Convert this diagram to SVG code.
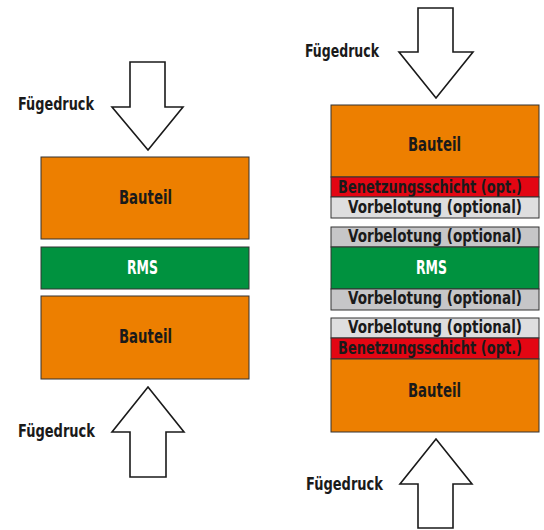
<svg xmlns="http://www.w3.org/2000/svg" width="544" height="530" viewBox="0 0 544 530">
<style>
text{font-family:"Liberation Sans Narrow","DejaVu Sans Condensed","Liberation Sans",sans-serif;font-weight:bold;font-stretch:condensed;fill:#1a1a1a}
.lbl{font-size:18.5px}
.big{font-size:20px}
.lay{font-size:17.5px;text-anchor:middle}
.c{text-anchor:middle}
.w{fill:#ffffff}
.arrow{fill:#ffffff;stroke:#1a1a1a;stroke-width:1.6;stroke-linejoin:miter}
.blk{stroke:#333333;stroke-width:1}
.or{fill:#ED7F00}
.gr{fill:#00923F}
.rd{fill:#E30613}
.lg{fill:#DEDEDF}
.dg{fill:#C6C6C8}
</style>
<rect width="544" height="530" fill="#ffffff"/>
<g id="connectors">
<path class="arrow" d="M130,62 H165 V107 H183 L148,150 L112,107 H130 Z"/>
<path class="arrow" d="M130,477 H166 V432 H184 L148,387 L112,432 H130 Z"/>
<path class="arrow" d="M418,8 H453 V52 H473 L436,98 L399,52 H418 Z"/>
<path class="arrow" d="M418,528 H453 V484 H472 L436,439 L400,484 H418 Z"/>
</g>
<g id="label-left-top"><text class="lbl" x="18" y="110" textLength="76" lengthAdjust="spacingAndGlyphs">Fügedruck</text></g>
<g id="label-left-bottom"><text class="lbl" x="18" y="437" textLength="77" lengthAdjust="spacingAndGlyphs">Fügedruck</text></g>
<g id="label-right-top"><text class="lbl" x="305" y="57" textLength="74" lengthAdjust="spacingAndGlyphs">Fügedruck</text></g>
<g id="label-right-bottom"><text class="lbl" x="306" y="490" textLength="77" lengthAdjust="spacingAndGlyphs">Fügedruck</text></g>

<g id="left-bauteil-top"><rect class="blk or" x="41" y="157" width="208" height="82"/><text class="big c" x="145.5" y="204" textLength="53" lengthAdjust="spacingAndGlyphs">Bauteil</text></g>
<g id="left-rms"><rect class="blk gr" x="41" y="247" width="208" height="42"/><text class="big c w" x="142.5" y="274" textLength="31" lengthAdjust="spacingAndGlyphs">RMS</text></g>
<g id="left-bauteil-bottom"><rect class="blk or" x="41" y="296" width="208" height="83"/><text class="big c" x="145.5" y="343" textLength="53" lengthAdjust="spacingAndGlyphs">Bauteil</text></g>

<g id="right-bauteil-top"><rect class="blk or" x="331" y="105" width="208" height="72"/><text class="big c" x="434.5" y="151" textLength="53" lengthAdjust="spacingAndGlyphs">Bauteil</text></g>
<g id="right-benetzung-top"><rect class="blk rd" x="331" y="177" width="208" height="20"/><text class="lay" x="430" y="193" textLength="184" lengthAdjust="spacingAndGlyphs">Benetzungsschicht (opt.)</text></g>
<g id="right-vorbelotung-1"><rect class="blk lg" x="331" y="197" width="208" height="21"/><text class="lay" x="435" y="213" textLength="174" lengthAdjust="spacingAndGlyphs">Vorbelotung (optional)</text></g>
<g id="right-vorbelotung-2"><rect class="blk dg" x="331" y="227" width="208" height="20"/><text class="lay" x="435" y="242" textLength="174" lengthAdjust="spacingAndGlyphs">Vorbelotung (optional)</text></g>
<g id="right-rms"><rect class="blk gr" x="331" y="247" width="208" height="42"/><text class="big c w" x="431.5" y="274" textLength="31" lengthAdjust="spacingAndGlyphs">RMS</text></g>
<g id="right-vorbelotung-3"><rect class="blk dg" x="331" y="289" width="208" height="21"/><text class="lay" x="435" y="304" textLength="174" lengthAdjust="spacingAndGlyphs">Vorbelotung (optional)</text></g>
<g id="right-vorbelotung-4"><rect class="blk lg" x="331" y="318" width="208" height="20"/><text class="lay" x="435" y="333" textLength="174" lengthAdjust="spacingAndGlyphs">Vorbelotung (optional)</text></g>
<g id="right-benetzung-bottom"><rect class="blk rd" x="331" y="338" width="208" height="21"/><text class="lay" x="430" y="354" textLength="184" lengthAdjust="spacingAndGlyphs">Benetzungsschicht (opt.)</text></g>
<g id="right-bauteil-bottom"><rect class="blk or" x="331" y="359" width="208" height="73"/><text class="big c" x="434.5" y="397" textLength="53" lengthAdjust="spacingAndGlyphs">Bauteil</text></g>
</svg>
